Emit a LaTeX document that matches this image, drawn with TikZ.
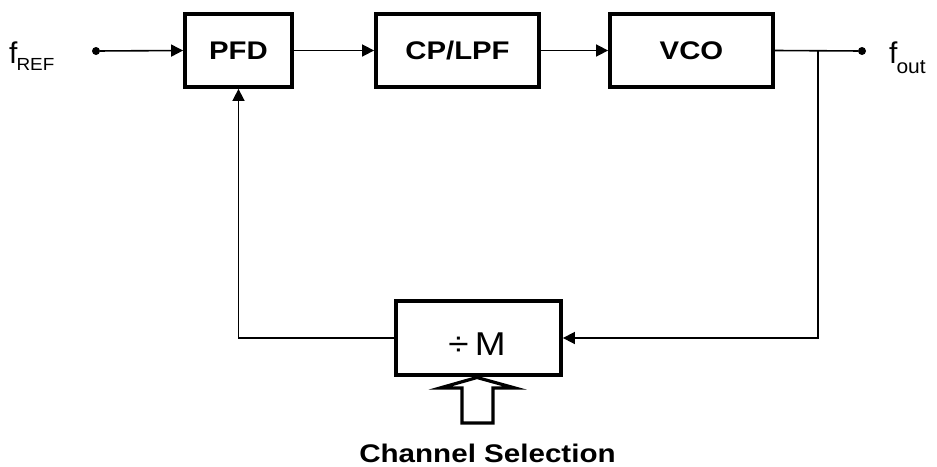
\documentclass[tikz,border=0pt]{standalone}
\usepackage{fontspec}
\setmainfont{Liberation Sans}
\usetikzlibrary{arrows.meta}
\begin{document}
\begin{tikzpicture}[x=1pt,y=-1pt,
  blk/.style={draw, line width=3.8pt, minimum width=163pt, minimum height=73pt, inner sep=0pt,
    font=\fontsize{25.5}{30}\selectfont\bfseries},
  conn/.style={line width=1.6pt},
  arr/.style={conn, -{Triangle[length=12pt,width=12pt]}},
  dotn/.style={circle, fill, inner sep=0pt, minimum size=8pt},
  lbl/.style={inner sep=0pt, anchor=base west}]
\useasboundingbox (0,0) rectangle (937,466);
% blocks
\node[blk, minimum width=107pt] (pfd) at (238.5,50.5) {\scalebox{1.15}[1]{PFD}};
\node[blk] (cplpf) at (457.5,50.5) {\scalebox{1.15}[1]{CP/LPF}};
\node[blk] (vco) at (691.5,50.5) {\scalebox{1.15}[1]{VCO}};
\node[blk, minimum width=165pt, minimum height=74pt] (div) at (478.5,338) {};
\node[inner sep=0pt, anchor=base] (divtxt) at (477,355) {\fontsize{33}{36}\selectfont\scalebox{1.12}[1]{÷\,M}};
% terminals
\node[dotn] (fref) at (96,51) {};
\node[dotn] (fout) at (862,51) {};
\coordinate (br) at (818,51);
\node[lbl] (freflbl) at (9,63) {\fontsize{30}{32}\selectfont f\hspace{-1pt}\raisebox{-7pt}{\fontsize{17.5}{20}\selectfont\scalebox{1.08}[1]{REF}}};
\node[lbl] (foutlbl) at (889,63) {\fontsize{30}{32}\selectfont f\hspace{-1pt}\raisebox{-10pt}{\fontsize{20}{22}\selectfont\scalebox{1.05}[1]{out}}};
% connectors
\draw[arr] (fref) -- (pfd.west);
\draw[arr] (pfd.east) -- (cplpf.west);
\draw[arr] (cplpf.east) -- (vco.west);
\draw[conn] (vco.east) -- (fout);
\draw[arr] (br) |- (div.east);
\draw[arr] (div.west) -| (pfd.south);
% channel selection hollow arrow
\draw[line width=3.2pt, fill=white, miter limit=20]
  (462,423) -- (462,388) -- (440,388) -- (477,377.5) -- (515,388) -- (493,388) -- (493,423) -- cycle;
\node[inner sep=0pt, anchor=base] (chsel) at (487.5,462)
  {\fontsize{25.5}{30}\selectfont\bfseries\scalebox{1.16}[1]{Channel Selection}};
\end{tikzpicture}
\end{document}
